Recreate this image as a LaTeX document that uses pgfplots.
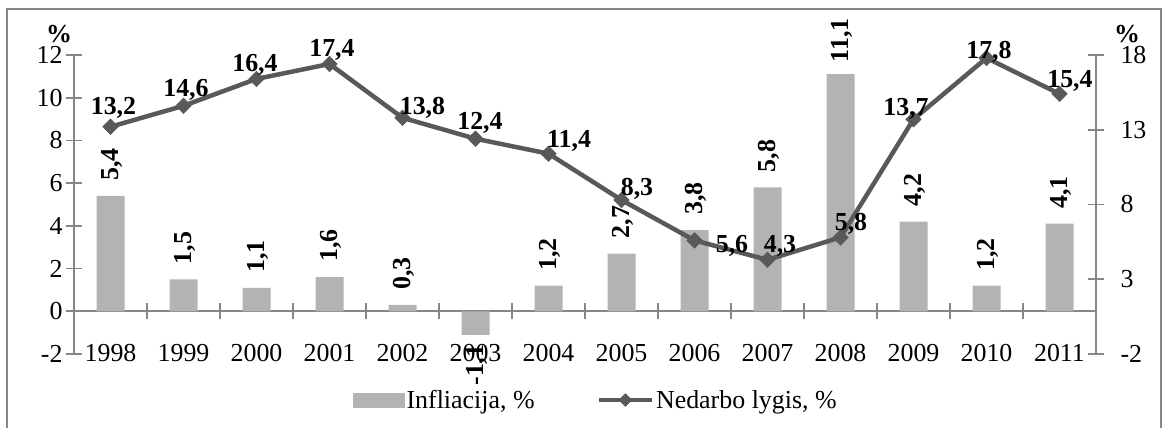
\documentclass[border=0pt]{standalone}
\usepackage{pgfplots}
\pgfplotsset{compat=1.18}
\usepackage{pgfplotstable}
\usepackage{fontspec}
\setmainfont{Liberation Serif}
\definecolor{axgray}{HTML}{868686}
\definecolor{bargray}{HTML}{B3B3B3}
\definecolor{linegray}{HTML}{595959}

\pgfplotstableread{
x y sh
0 5.4 15
1 1.5 15
2 1.1 15
3 1.6 15
4 0.3 15
5 -1.1 -51
6 1.2 15
7 2.7 15
8 3.8 15
9 5.8 15
10 11.1 12
11 4.2 15
12 1.2 15
13 4.1 15
}\infl

\pgfplotstableread{
x y dx dy
0 13.2 3 12
1 14.6 2.5 9
2 16.4 -1.5 7
3 17.4 2.5 7
4 13.8 20 3
5 12.4 4.5 9
6 11.4 20.5 6
7 8.3 15.5 5
8 5.6 37.5 -12
9 4.3 12.5 7
10 5.8 10.5 7
11 13.7 -7.5 4
12 17.8 2.5 -1
13 15.4 10.5 6
}\unemp

\newcommand{\bigf}{\fontsize{26}{30}\selectfont}

\begin{document}
\begin{tikzpicture}[x=1bp,y=1bp]
\useasboundingbox (0,0) rectangle (1162,427);
\draw[axgray, line width=1.5bp] (7,-10) -- (7,418) -- (1161,418) -- (1161,-10);

\begin{axis}[
  scale only axis, width=1022bp, height=299bp,
  at={(74bp,73bp)}, anchor=south west,
  xmin=-0.5, xmax=13.5, ymin=-2, ymax=12,
  axis y line*=left, axis x line*=middle,
  hide obscured x ticks=false, hide obscured y ticks=false,
  axis line style={draw=axgray, line width=1.8bp, -},
  tick style={draw=axgray, line width=1.8bp},
  tick align=center, major tick length=16bp,
  ytick={-2,0,...,12},
  xtick={-0.5,0.5,...,13.5},
  x tick label as interval,
  xticklabels={1998,1999,2000,2001,2002,2003,2004,2005,2006,2007,2008,2009,2010,2011},
  xticklabel style={anchor=base, yshift=-42bp},
  every tick label/.append style={font=\bigf, text=black},
  /pgf/number format/assume math mode=true,
  clip=false,
]
\addplot[ybar, bar width=28bp, bar shift=0pt, fill=bargray, draw=none,
  visualization depends on={\thisrow{sh} \as \sh},
  nodes near coords={\pgfmathprintnumber[fixed,fixed zerofill,precision=1,use comma,assume math mode=true]{\pgfplotspointmeta}},
  nodes near coords style={font=\bfseries\bigf, text=black, inner sep=0pt, xshift=8bp, yshift=\sh bp, rotate=90, anchor=base west},
] table[x=x,y=y] {\infl};
\end{axis}

\begin{axis}[
  scale only axis, width=1022bp, height=299bp,
  at={(74bp,73bp)}, anchor=south west,
  xmin=-0.5, xmax=13.5, ymin=-2, ymax=18,
  axis y line*=right, axis x line=none,
  axis line style={draw=axgray, line width=1.8bp, -},
  tick style={draw=axgray, line width=1.8bp},
  tick align=center, major tick length=16bp,
  ytick={-2,3,8,13,18},
  yticklabel style={xshift=13bp},
  every tick label/.append style={font=\bigf, text=black},
  /pgf/number format/assume math mode=true,
  clip=false,
  legend columns=2,
  legend style={draw=none, fill=none, font=\bigf, at={(0.273,-0.154)}, anchor=west,
    inner xsep=0pt, inner ysep=0pt,
    /tikz/every even column/.append style={column sep=60bp}},
]
\addlegendimage{legend image code/.code={\fill[bargray] (0bp,-7bp) rectangle (51bp,7bp);}}
\addlegendentry{Infliacija, \%}
\addplot[linegray, line width=4.5bp, mark=square*, mark size=5.5bp,
  mark options={rotate=45, solid, fill=linegray, draw=linegray, line width=0.5bp},
  visualization depends on={\thisrow{dx} \as \dx},
  visualization depends on={\thisrow{dy} \as \dy},
  nodes near coords={\pgfmathprintnumber[fixed,fixed zerofill,precision=1,use comma,assume math mode=true]{\pgfplotspointmeta}},
  nodes near coords style={font=\bfseries\bigf, text=black, inner sep=0pt, anchor=base, xshift=\dx bp, yshift=\dy bp},
  legend image code/.code={\draw[linegray, line width=4.5bp, mark=square*, mark size=4.5bp, mark options={rotate=45, fill=linegray, draw=linegray, line width=0.5bp}, mark repeat=2, mark phase=2] plot coordinates {(0bp,0bp) (26.5bp,0bp) (53bp,0bp)};},
] table[x=x,y=y] {\unemp};
\addlegendentry{Nedarbo lygis, \%}
\end{axis}

\node[font=\bfseries\bigf, inner sep=0pt] at (59,393) {\%};
\node[font=\bfseries\bigf, inner sep=0pt] at (1127,393) {\%};
\end{tikzpicture}
\end{document}
